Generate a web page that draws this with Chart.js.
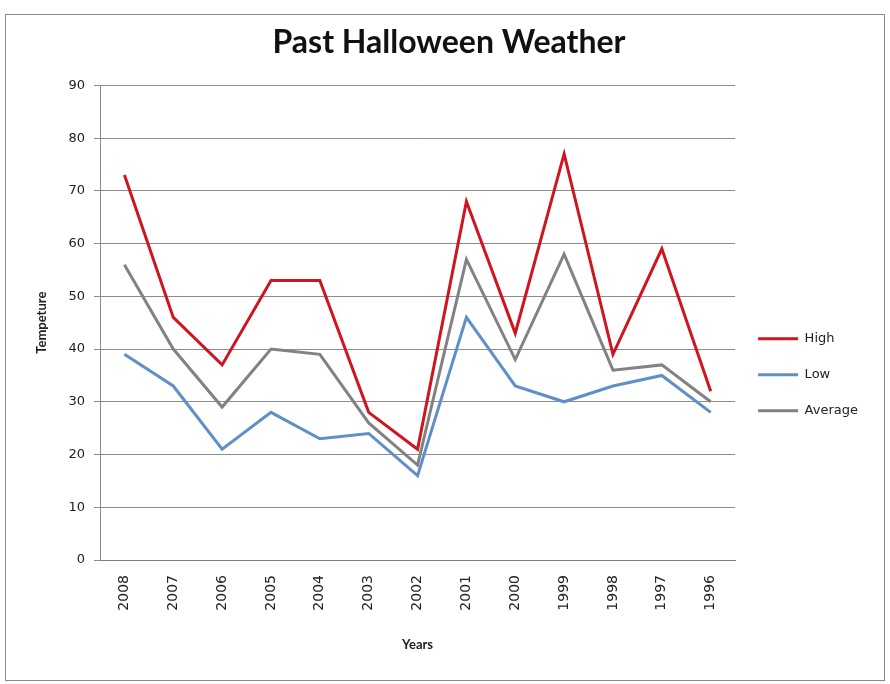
<!DOCTYPE html>
<html>
<head>
<meta charset="utf-8">
<script src="https://cdn.jsdelivr.net/npm/chart.js@4.4.1/dist/chart.umd.min.js"></script>
<style>
  html, body { margin: 0; padding: 0; background: #fff; }
  #wrap { position: relative; width: 890px; height: 684px; }
  #frame { position: absolute; left: 5px; top: 14px; width: 878px; height: 665px; border: 1px solid #8a8a8a; pointer-events: none; }
</style>
</head>
<body>
<div id="wrap">
  <canvas id="weatherChart" width="890" height="684"></canvas>
  <div id="frame"></div>
</div>
<script>
const years = ['2008', '2007', '2006', '2005', '2004', '2003', '2002', '2001', '2000', '1999', '1998', '1997', '1996'];
const highTemps = [73, 46, 37, 53, 53, 28, 21, 68, 43, 77, 39, 59, 32];
const lowTemps = [39, 33, 21, 28, 23, 24, 16, 46, 33, 30, 33, 35, 28];
const avgTemps = [56, 40, 29, 40, 39, 26, 18, 57, 38, 58, 36, 37, 30];

const tickFont = { family: 'DejaVu Sans', size: 12 };
const titleFont = { family: 'Lato', weight: 'bold', size: 13 };

const ctx = document.getElementById('weatherChart').getContext('2d');
new Chart(ctx, {
  type: 'line',
  data: {
    labels: years,
    datasets: [
      { label: 'High', data: highTemps, borderColor: '#cf1520', backgroundColor: '#cf1520' },
      { label: 'Low', data: lowTemps, borderColor: '#5f8fc9', backgroundColor: '#5f8fc9' },
      { label: 'Average', data: avgTemps, borderColor: '#828282', backgroundColor: '#828282' },
    ],
  },
  options: {
    responsive: false,
    animation: false,
    elements: {
      line: { borderWidth: 3, tension: 0 },
      point: { radius: 0 },
    },
    layout: { padding: { left: 30, right: 22, top: 0, bottom: 27 } },
    plugins: {
      title: {
        display: true,
        text: 'Past Halloween Weather',
        color: '#111',
        font: { family: 'Lato', weight: 'bold', size: 32 },
        padding: { top: 23, bottom: 24 },
      },
      legend: {
        position: 'right',
        title: { display: true, text: ' ', font: { size: 12 }, padding: { top: 0, bottom: 78 } },
        labels: {
          color: '#222',
          font: { family: 'DejaVu Sans', size: 13 },
          boxWidth: 40,
          boxHeight: 3,
          padding: 23,
          generateLabels: (chart) =>
            Chart.defaults.plugins.legend.labels.generateLabels(chart).map((l) => ({ ...l, lineWidth: 0 })),
        },
      },
      tooltip: { enabled: false },
    },
    scales: {
      x: {
        offset: true,
        grid: { display: false, drawTicks: false },
        border: { color: '#808080', width: 1 },
        ticks: { color: '#222', font: { family: 'DejaVu Sans', size: 14 }, minRotation: 90, maxRotation: 90, padding: 15 },
        title: { display: true, text: 'Years', color: '#222', font: titleFont, padding: { top: 12, bottom: 4 } },
        afterFit: (scale) => { scale.height = 97; },
      },
      y: {
        min: 0,
        max: 90,
        grid: { color: '#8c8c8c', lineWidth: 1, tickLength: 6 },
        border: { color: '#8c8c8c' },
        ticks: { stepSize: 10, color: '#222', font: { family: 'DejaVu Sans', size: 13 }, padding: 9 },
        title: { display: true, text: 'Tempeture', color: '#222', font: titleFont, padding: { bottom: 10 } },
        afterFit: (scale) => { scale.width = 70; },
      },
    },
  },
});
</script>
</body>
</html>
